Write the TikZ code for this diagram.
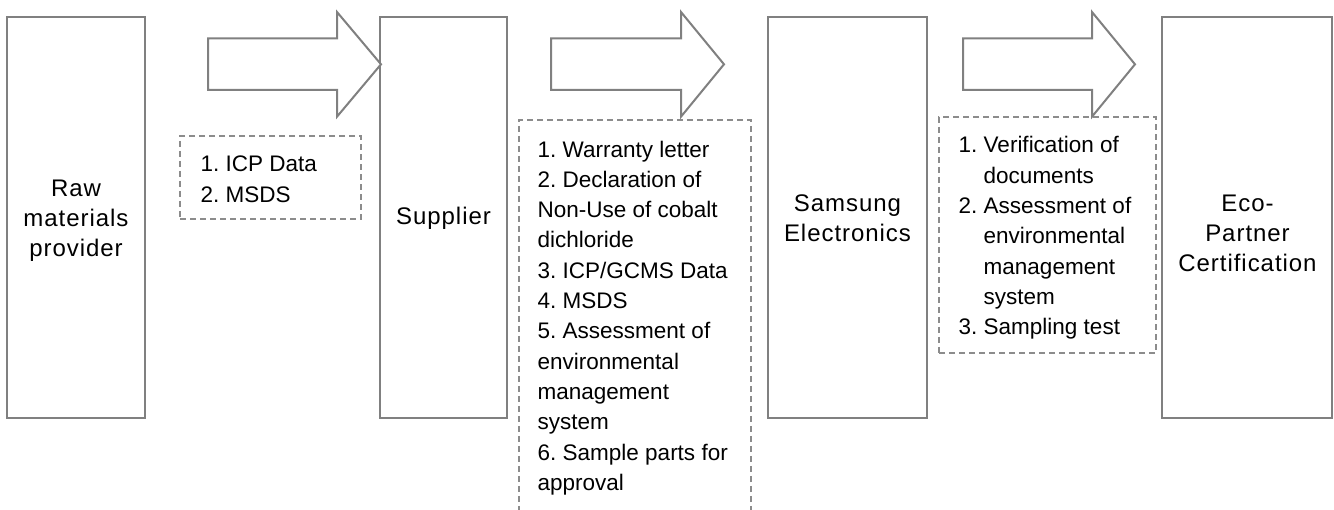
\documentclass[tikz,border=0pt]{standalone}
\usepackage{fontspec}
\setmainfont{Liberation Sans}
\newfontfamily\boxfont[LetterSpace=4]{Liberation Sans}
\frenchspacing
\definecolor{linegray}{HTML}{808080}
\definecolor{dashgray}{HTML}{8C8C8C}
\tikzset{
  stagebox/.style={draw=linegray, line width=2pt, fill=white, inner sep=0pt},
  stagetext/.style={font=\boxfont\fontsize{24}{30}\selectfont, align=center, inner sep=0pt, text=black},
  listbox/.style={draw=dashgray, line width=1.6pt, dash pattern=on 6pt off 4pt, inner sep=0pt},
  listtext/.style={font=\frenchspacing\fontsize{22.5}{30.3}\selectfont, align=left, inner sep=0pt, text=black},
  blockarrow/.style={draw=linegray, line width=2pt, fill=white, line join=miter}
}
\begin{document}
\begin{tikzpicture}[x=1pt,y=-1pt]
\useasboundingbox (0,0) rectangle (1334,510);
\clip (0,0) rectangle (1334,510);
% stage boxes
\node[stagebox, minimum width=138pt, minimum height=401pt] (raw) at (76,217.5) {};
\node[stagebox, minimum width=127pt, minimum height=401pt] (sup) at (443.5,217.5) {};
\node[stagebox, minimum width=159pt, minimum height=401pt] (sam) at (847.5,217.5) {};
\node[stagebox, minimum width=170pt, minimum height=401pt] (eco) at (1247,217.5) {};
% stage labels (base anchor = baseline of last line)
\node[stagetext, anchor=base] (rawt) at (76,256.7) {Raw\\materials\\provider};
\node[stagetext, anchor=base] (supt) at (443.5,225) {Supplier};
\node[stagetext, anchor=base] (samt) at (847.5,242) {Samsung\\Electronics};
\node[stagetext, anchor=base] (ecot) at (1247.5,271.7) {Eco-\\Partner\\Certification};
% dashed document boxes
\node[listbox, minimum width=181pt, minimum height=83pt] (d1) at (270.5,177.5) {};
\node[listbox, minimum width=232pt, minimum height=410pt] (d2) at (635,325) {};
\node[listbox, minimum width=217pt, minimum height=236pt] (d3) at (1047.5,235) {};
% list texts
\node[listtext, anchor=base west] (d1t) at (200.5,202.3) {1. ICP Data\\2. MSDS};
\node[listtext, anchor=base west] (d2t) at (537.5,490.3) {1. Warranty letter\\2. Declaration of\\Non-Use of cobalt\\dichloride\\3. ICP/GCMS Data\\4. MSDS\\5. Assessment of\\environmental\\management\\system\\6. Sample parts for\\approval};
\node[font=\frenchspacing\fontsize{22.5}{30.3}\selectfont, inner sep=0pt, anchor=base west] (d3t) at (958.5,153)
  {\begin{tabular}[t]{@{}l@{\ }l@{}}1. & Verification of\\ & documents\\2. & Assessment of\\ & environmental\\ & management\\ & system\\3. & Sampling test\end{tabular}};
% block arrows
\draw[blockarrow] (208,38.5) -- (337,38.5) -- (337,12) -- (381,64.3) -- (337,116.7) -- (337,90) -- (208,90) -- cycle;
\draw[blockarrow] (551,38.5) -- (681,38.5) -- (681,12) -- (724,64.3) -- (681,116.7) -- (681,90) -- (551,90) -- cycle;
\draw[blockarrow] (963,38.5) -- (1092,38.5) -- (1092,12) -- (1135,64.3) -- (1092,116.7) -- (1092,90) -- (963,90) -- cycle;
\end{tikzpicture}
\end{document}
